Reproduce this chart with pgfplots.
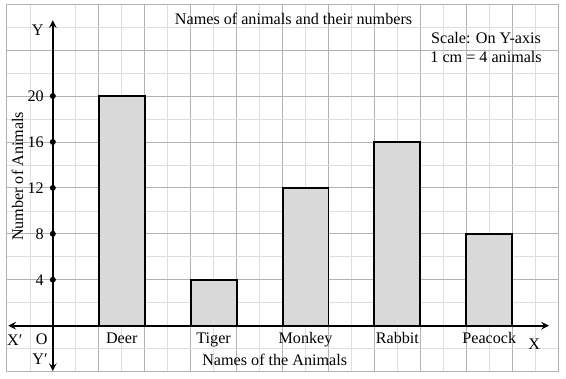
\documentclass[border=0pt]{standalone}
\usepackage{fontspec}
\setmainfont{Liberation Serif}
\usepackage{pgfplots}
\pgfplotsset{compat=1.18}
\begin{document}
\begin{tikzpicture}
\begin{axis}[
  name=ax,
  scale only axis,
  x=1cm, y=0.25cm,
  xmin=-1, xmax=11, ymin=-4, ymax=28,
  axis lines=middle,
  axis line style={draw=none},
  clip=false,
  xtick={-1,0,...,11}, xticklabels={},
  ytick={-4,0,4,...,28}, yticklabels={},
  minor x tick num=1, minor y tick num=1,
  grid=both,
  major grid style={draw=black!30, line width=0.5pt},
  minor grid style={draw=black!13, line width=0.4pt},
  tick style={draw=none},
  extra x ticks={1.5,3.5,5.5,7.5,9.5},
  extra x tick labels={Deer,Tiger,Monkey,Rabbit,Peacock},
  extra x tick style={grid=none, tick style={draw=none}},
  extra y ticks={4,8,12,16,20},
  extra y tick labels={4,8,12,16,20},
  extra y tick style={grid=none, tick style={draw=none}},
  /pgf/number format/assume math mode=true,
  tick label style={font=\fontsize{10}{12}\selectfont},
  xticklabel style={yshift=1.5pt},
]
\addplot[ybar, bar width=1cm, bar shift=0pt, fill=black!15, draw=black, line width=1.2pt]
  coordinates {(1.5,20) (3.5,4) (5.5,12) (7.5,16) (9.5,8)};
\draw[line width=1.1pt, -stealth] (axis cs:-0.9,0) -- (axis cs:10.8,0);
\draw[line width=1.1pt, -stealth] (axis cs:0,0) -- (axis cs:-0.97,0);
\draw[line width=1.1pt, -stealth] (axis cs:0,0) -- (axis cs:0,26.6);
\draw[line width=1.1pt, -stealth] (axis cs:0,0) -- (axis cs:0,-3.95);
\addplot[only marks, mark=*, mark size=1.6pt, black]
  coordinates {(0,4) (0,8) (0,12) (0,16) (0,20)};
\node[font=\fontsize{10}{12}\selectfont] at (axis cs:5.24,26.75) {Names of animals and their numbers};
\node[font=\fontsize{10}{12}\selectfont, align=center] at (axis cs:9.43,24.2) {Scale: On Y-axis\\1 cm = 4 animals};
\node[font=\fontsize{10}{12}\selectfont] at (axis cs:-0.33,25.7) {Y};
\node[font=\fontsize{10}{12}\selectfont, rotate=90] at (axis cs:-0.77,13) {Number of Animals};
\node[font=\fontsize{10}{12}\selectfont] at (axis cs:-0.83,-1.22) {X′};
\node[font=\fontsize{10}{12}\selectfont] at (axis cs:-0.24,-1.22) {O};
\node[font=\fontsize{10}{12}\selectfont] at (axis cs:-0.28,-2.9) {Y′};
\node[font=\fontsize{10}{12}\selectfont] at (axis cs:10.48,-1.57) {X};
\node[font=\fontsize{10}{12}\selectfont] at (axis cs:4.83,-2.97) {Names of the Animals};
\end{axis}
\pgfresetboundingbox
\path[use as bounding box] (ax.south west) ++(-0.15cm,-0.15cm) rectangle ([shift={(0.17cm,0.09cm)}]ax.north east);
\end{tikzpicture}
\end{document}
